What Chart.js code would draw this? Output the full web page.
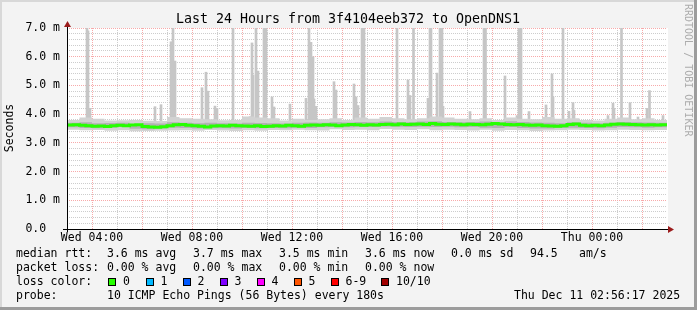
<!DOCTYPE html>
<html lang="en">
<head>
<meta charset="UTF-8" />
<title>SmokePing | Last 24 Hours to OpenDNS1</title>
<script src="https://cdn.jsdelivr.net/npm/chart.js"></script>
<style>
  html, body { margin: 0; padding: 0; background: #f3f3f3; }
  #wrap { width: 697px; height: 310px; }
</style>
</head>
<body>
<div id="wrap"><canvas id="chartRtt" width="697" height="310"></canvas></div>

<script>
// hours since Wed 03:00 on x, milliseconds on y
const medianRtt = [
  3.62, 3.63, 3.61, 3.60, 3.58, 3.59, 3.57, 3.60,
  3.61, 3.60, 3.62, 3.63, 3.57, 3.55, 3.54, 3.56,
  3.60, 3.63, 3.64, 3.61, 3.60, 3.58, 3.55, 3.59,
  3.60, 3.59, 3.61, 3.60, 3.59, 3.58, 3.60, 3.57,
  3.58, 3.60, 3.59, 3.61, 3.60, 3.58, 3.61, 3.62,
  3.61, 3.63, 3.62, 3.60, 3.62, 3.64, 3.63, 3.61,
  3.63, 3.62, 3.64, 3.65, 3.63, 3.66, 3.64, 3.65,
  3.66, 3.64, 3.67, 3.65, 3.64, 3.66, 3.65, 3.63,
  3.65, 3.64, 3.63, 3.65, 3.67, 3.66, 3.64, 3.63,
  3.64, 3.62, 3.61, 3.62, 3.60, 3.59, 3.58, 3.60,
  3.64, 3.66, 3.61, 3.60, 3.61, 3.60, 3.62, 3.65,
  3.66, 3.65, 3.64, 3.63, 3.62, 3.63, 3.62, 3.63,
  3.63
];
const smokeLightHi = [
  3.80, 3.88, 3.84, 3.78, 3.79, 3.80, 3.77, 3.76,
  3.90, 3.86, 3.84, 3.82, 3.79, 3.80, 3.92, 3.88,
  3.86, 3.78, 3.84, 3.80, 3.82, 3.86, 3.80, 3.88,
  3.84, 3.90, 3.86, 3.82, 3.86, 3.92, 3.88, 3.84,
  3.82, 3.86, 3.80, 3.88, 3.84, 3.82, 3.90, 3.84,
  3.86, 3.80, 3.78, 3.84, 3.88, 3.82, 3.86, 3.80,
  3.80
];
const smokeLightLo = [
  3.46, 3.44, 3.45, 3.42, 3.44, 3.40, 3.41, 3.42,
  3.43, 3.44, 3.42, 3.45, 3.43, 3.41, 3.44, 3.42,
  3.45, 3.44, 3.46, 3.44, 3.43, 3.47, 3.45, 3.46,
  3.44, 3.48, 3.46, 3.45, 3.47, 3.44, 3.46, 3.45,
  3.43, 3.46, 3.42, 3.45, 3.44, 3.41, 3.43, 3.44,
  3.46, 3.45, 3.43, 3.44, 3.46, 3.45, 3.44, 3.45,
  3.45
];
const smokeDarkHi = [
  3.70, 3.72, 3.68, 3.69, 3.70, 3.66, 3.68, 3.67,
  3.72, 3.70, 3.68, 3.70, 3.68, 3.67, 3.70, 3.69,
  3.68, 3.67, 3.70, 3.71, 3.70, 3.72, 3.71, 3.73,
  3.72, 3.74, 3.73, 3.72, 3.74, 3.75, 3.73, 3.72,
  3.73, 3.74, 3.72, 3.75, 3.73, 3.71, 3.70, 3.68,
  3.72, 3.70, 3.68, 3.70, 3.73, 3.72, 3.71, 3.70,
  3.70
];
const smokeDarkLo = [
  3.54, 3.52, 3.51, 3.53, 3.55, 3.49, 3.47, 3.50,
  3.53, 3.52, 3.50, 3.51, 3.51, 3.50, 3.52, 3.51,
  3.52, 3.51, 3.53, 3.52, 3.54, 3.55, 3.54, 3.56,
  3.55, 3.57, 3.56, 3.55, 3.56, 3.55, 3.56, 3.54,
  3.55, 3.53, 3.52, 3.55, 3.52, 3.50, 3.50, 3.52,
  3.53, 3.52, 3.51, 3.53, 3.55, 3.54, 3.53, 3.54,
  3.54
];
// single slow pings sticking out of the smoke
const spikeHours = [
  0.80, 0.84, 0.92, 3.52, 3.76, 4.16, 4.24, 4.32, 5.40, 5.56, 5.64, 5.92, 6.00,
  6.64, 7.32, 7.40, 7.44, 7.56, 7.64, 7.88, 7.96, 8.20, 8.28, 8.92, 9.56, 9.68,
  9.76, 9.84, 9.88, 9.96, 10.68, 10.76, 11.48, 11.56, 11.64, 11.80, 11.88, 13.20,
  13.64, 13.72, 13.86, 14.44, 14.52, 14.56, 14.80, 14.92, 15.00, 15.04, 16.12,
  16.68, 16.74, 17.52, 18.00, 18.08, 18.16, 18.48, 19.16, 19.40, 19.44, 19.84,
  20.08, 20.24, 20.28, 21.64, 21.84, 21.88, 22.18, 22.52, 22.84, 23.20, 23.30, 23.84
];
const spikeTops = [
  7.00, 6.90, 4.20, 4.26, 4.33, 6.52, 7.00, 5.85, 4.92, 5.46, 4.80, 4.28, 4.20,
  7.00, 3.91, 6.48, 5.36, 7.00, 5.50, 7.00, 7.00, 4.60, 4.25, 4.35, 4.55, 7.00,
  6.50, 6.00, 4.53, 4.27, 5.13, 4.84, 5.05, 4.60, 4.30, 7.00, 7.00, 7.00,
  5.19, 4.65, 7.00, 4.55, 7.00, 7.00, 5.43, 7.00, 7.00, 4.27, 4.09,
  7.00, 7.00, 5.33, 3.95, 7.00, 7.00, 4.09, 4.32, 5.40, 4.60, 7.00,
  4.10, 4.40, 4.13, 3.95, 4.38, 4.20, 7.00, 4.40, 3.90, 4.20, 4.82, 3.95
];
const spikeBase = 3.72;
const xLabelHours = [1, 5, 9, 13, 17, 21];
const xLabels = ["Wed 04:00", "Wed 08:00", "Wed 12:00", "Wed 16:00", "Wed 20:00", "Thu 00:00"];
const yLabels = ["0.0  ", "1.0 m", "2.0 m", "3.0 m", "4.0 m", "5.0 m", "6.0 m", "7.0 m"];

const medianHours = medianRtt.map((v, i) => i * 0.25);
const smokeHours = smokeLightHi.map((v, i) => i * 0.5);
const toPoints = (xs, ys) => ys.map((y, i) => ({ x: xs[i], y: y }));

const MONO = "DejaVu Sans Mono";
const MAJOR = "#f7aaaa";
const MINOR = "#cdcdcd";

const rrdDecor = {
  id: "rrdDecor",
  beforeDraw(chart) {
    const { ctx, chartArea: a } = chart;
    ctx.save();
    ctx.fillStyle = "#f3f3f3";
    ctx.fillRect(0, 0, chart.width, chart.height);
    ctx.fillStyle = "#ffffff";
    ctx.fillRect(a.left, a.top, a.right - a.left + 1, a.bottom - a.top);
    ctx.restore();
  },
  afterDraw(chart) {
    const { ctx, chartArea: a } = chart;
    ctx.save();

    // axes with arrows
    ctx.strokeStyle = "#000";
    ctx.lineWidth = 1;
    ctx.beginPath();
    ctx.moveTo(63, a.bottom + 0.5);
    ctx.lineTo(a.right + 2, a.bottom + 0.5);
    ctx.moveTo(a.left + 0.5, a.bottom + 3);
    ctx.lineTo(a.left + 0.5, a.top - 2);
    ctx.stroke();
    ctx.fillStyle = "#9b1c1c";
    ctx.beginPath();
    ctx.moveTo(a.right + 1, a.bottom - 3);
    ctx.lineTo(a.right + 1, a.bottom + 4);
    ctx.lineTo(a.right + 7, a.bottom + 0.5);
    ctx.fill();
    ctx.beginPath();
    ctx.moveTo(a.left - 3, a.top - 1);
    ctx.lineTo(a.left + 4, a.top - 1);
    ctx.lineTo(a.left + 0.5, a.top - 7);
    ctx.fill();

    // title and axis title
    ctx.fillStyle = "#000";
    ctx.textBaseline = "middle";
    ctx.textAlign = "center";
    ctx.font = "13.3px " + MONO;
    ctx.fillText("Last 24 Hours from 3f4104eeb372 to OpenDNS1", 348, 20);
    ctx.save();
    ctx.translate(10, 128);
    ctx.rotate(-Math.PI / 2);
    ctx.font = "11.5px " + MONO;
    ctx.fillText("Seconds", 0, 0);
    ctx.restore();

    // legend rows
    ctx.textAlign = "left";
    ctx.font = "11.5px " + MONO;
    const rows = [
      [254, [["median rtt:", 16], ["3.6 ms avg", 107], ["3.7 ms max", 193], ["3.5 ms min", 279],
             ["3.6 ms now", 365], ["0.0 ms sd", 451], ["94.5", 530], ["am/s", 579]]],
      [268, [["packet loss:", 16], ["0.00 % avg", 107], ["0.00 % max", 193], ["0.00 % min", 279],
             ["0.00 % now", 365]]],
      [282, [["loss color:", 16]]],
      [296, [["probe:", 16], ["10 ICMP Echo Pings (56 Bytes) every 180s", 107],
             ["Thu Dec 11 02:56:17 2025", 514]]]
    ];
    rows.forEach(([y, parts]) => parts.forEach(([t, x]) => ctx.fillText(t, x, y)));

    const lossColors = [
      ["0", "#26ff00", 108], ["1", "#00b8ff", 145.5], ["2", "#0059ff", 182.5],
      ["3", "#7e00ff", 219.5], ["4", "#ff00ff", 256.5], ["5", "#ff5500", 293.5],
      ["6-9", "#ff0000", 330.5], ["10/10", "#a10000", 381]
    ];
    lossColors.forEach(([t, c, x]) => {
      ctx.fillStyle = c;
      ctx.fillRect(Math.round(x), 278, 8, 8);
      ctx.strokeStyle = "#000";
      ctx.strokeRect(Math.round(x) + 0.5, 278.5, 7, 7);
      ctx.fillStyle = "#000";
      ctx.fillText(t, x + 15, 282);
    });

    // watermark
    ctx.save();
    ctx.translate(688, 4);
    ctx.rotate(Math.PI / 2);
    ctx.fillStyle = "#acacac";
    ctx.font = "10px " + MONO;
    ctx.fillText("RRDTOOL / TOBI OETIKER", 0, 0);
    ctx.restore();

    // frame
    ctx.fillStyle = "#d8d8d8";
    ctx.fillRect(0, 0, chart.width, 2);
    ctx.fillRect(0, 0, 2, chart.height);
    ctx.fillStyle = "#9c9c9c";
    ctx.fillRect(694, 0, 3, chart.height);
    ctx.fillRect(0, 307, chart.width, 3);
    ctx.restore();
  }
};

new Chart(document.getElementById("chartRtt"), {
  type: "line",
  data: {
    datasets: [
      {
        label: "median rtt",
        data: toPoints(medianHours, medianRtt),
        borderColor: "#26ff00",
        borderWidth: 3,
        pointRadius: 0,
        stepped: true,
        fill: false,
        order: 1
      },
      {
        label: "smoke dense hi",
        data: toPoints(smokeHours, smokeDarkHi),
        borderColor: "rgba(0,0,0,0)",
        borderWidth: 0,
        pointRadius: 0,
        stepped: true,
        fill: "+1",
        backgroundColor: "#b2b2b2",
        order: 2
      },
      {
        label: "smoke dense lo",
        data: toPoints(smokeHours, smokeDarkLo),
        borderColor: "rgba(0,0,0,0)",
        borderWidth: 0,
        pointRadius: 0,
        stepped: true,
        fill: false,
        order: 2
      },
      {
        label: "smoke hi",
        data: toPoints(smokeHours, smokeLightHi),
        borderColor: "rgba(0,0,0,0)",
        borderWidth: 0,
        pointRadius: 0,
        stepped: true,
        fill: "+1",
        backgroundColor: "#d2d2d2",
        order: 3
      },
      {
        label: "smoke lo",
        data: toPoints(smokeHours, smokeLightLo),
        borderColor: "rgba(0,0,0,0)",
        borderWidth: 0,
        pointRadius: 0,
        stepped: true,
        fill: false,
        order: 3
      },
      {
        type: "bar",
        label: "spikes",
        data: spikeHours.map((h, i) => ({ x: h, y: [spikeBase, spikeTops[i]] })),
        backgroundColor: "#c6c6c6",
        barThickness: 2,
        order: 4
      }
    ]
  },
  options: {
    responsive: false,
    animation: false,
    events: [],
    layout: { padding: { left: 0, right: 30, top: 28, bottom: 0 } },
    plugins: {
      legend: { display: false },
      tooltip: { enabled: false },
      title: { display: false }
    },
    scales: {
      x: {
        type: "linear",
        min: 0,
        max: 24,
        offset: false,
        afterFit: (s) => { s.height = 81; },
        grid: {
          offset: false,
          drawTicks: false,
          color: (c) => {
            const h = c.tick.value;
            if (h <= 0 || h >= 24) return "rgba(0,0,0,0)";
            return h % 2 === 1 ? MAJOR : MINOR;
          }
        },
        border: { display: false, dash: [1, 1] },
        ticks: {
          stepSize: 1,
          autoSkip: false,
          maxRotation: 0,
          padding: 2,
          color: "#000",
          font: { family: MONO, size: 11.5 },
          callback: (v) => {
            const k = xLabelHours.indexOf(v);
            return k >= 0 ? xLabels[k] : "";
          }
        }
      },
      y: {
        min: 0,
        max: 7,
        afterFit: (s) => { s.width = 67; },
        grid: {
          drawTicks: false,
          color: (c) => {
            const v = c.tick.value;
            if (v <= 0.001) return "rgba(0,0,0,0)";
            return Math.abs(v - Math.round(v)) < 1e-6 ? MAJOR : MINOR;
          }
        },
        border: { display: false, dash: [1, 1] },
        ticks: {
          stepSize: 0.2,
          autoSkip: false,
          padding: 7,
          color: "#000",
          font: { family: MONO, size: 11.5 },
          callback: (v) => {
            const r = Math.round(v);
            return Math.abs(v - r) < 1e-6 ? yLabels[r] : "";
          }
        }
      }
    }
  },
  plugins: [rrdDecor]
});
</script>
</body>
</html>
